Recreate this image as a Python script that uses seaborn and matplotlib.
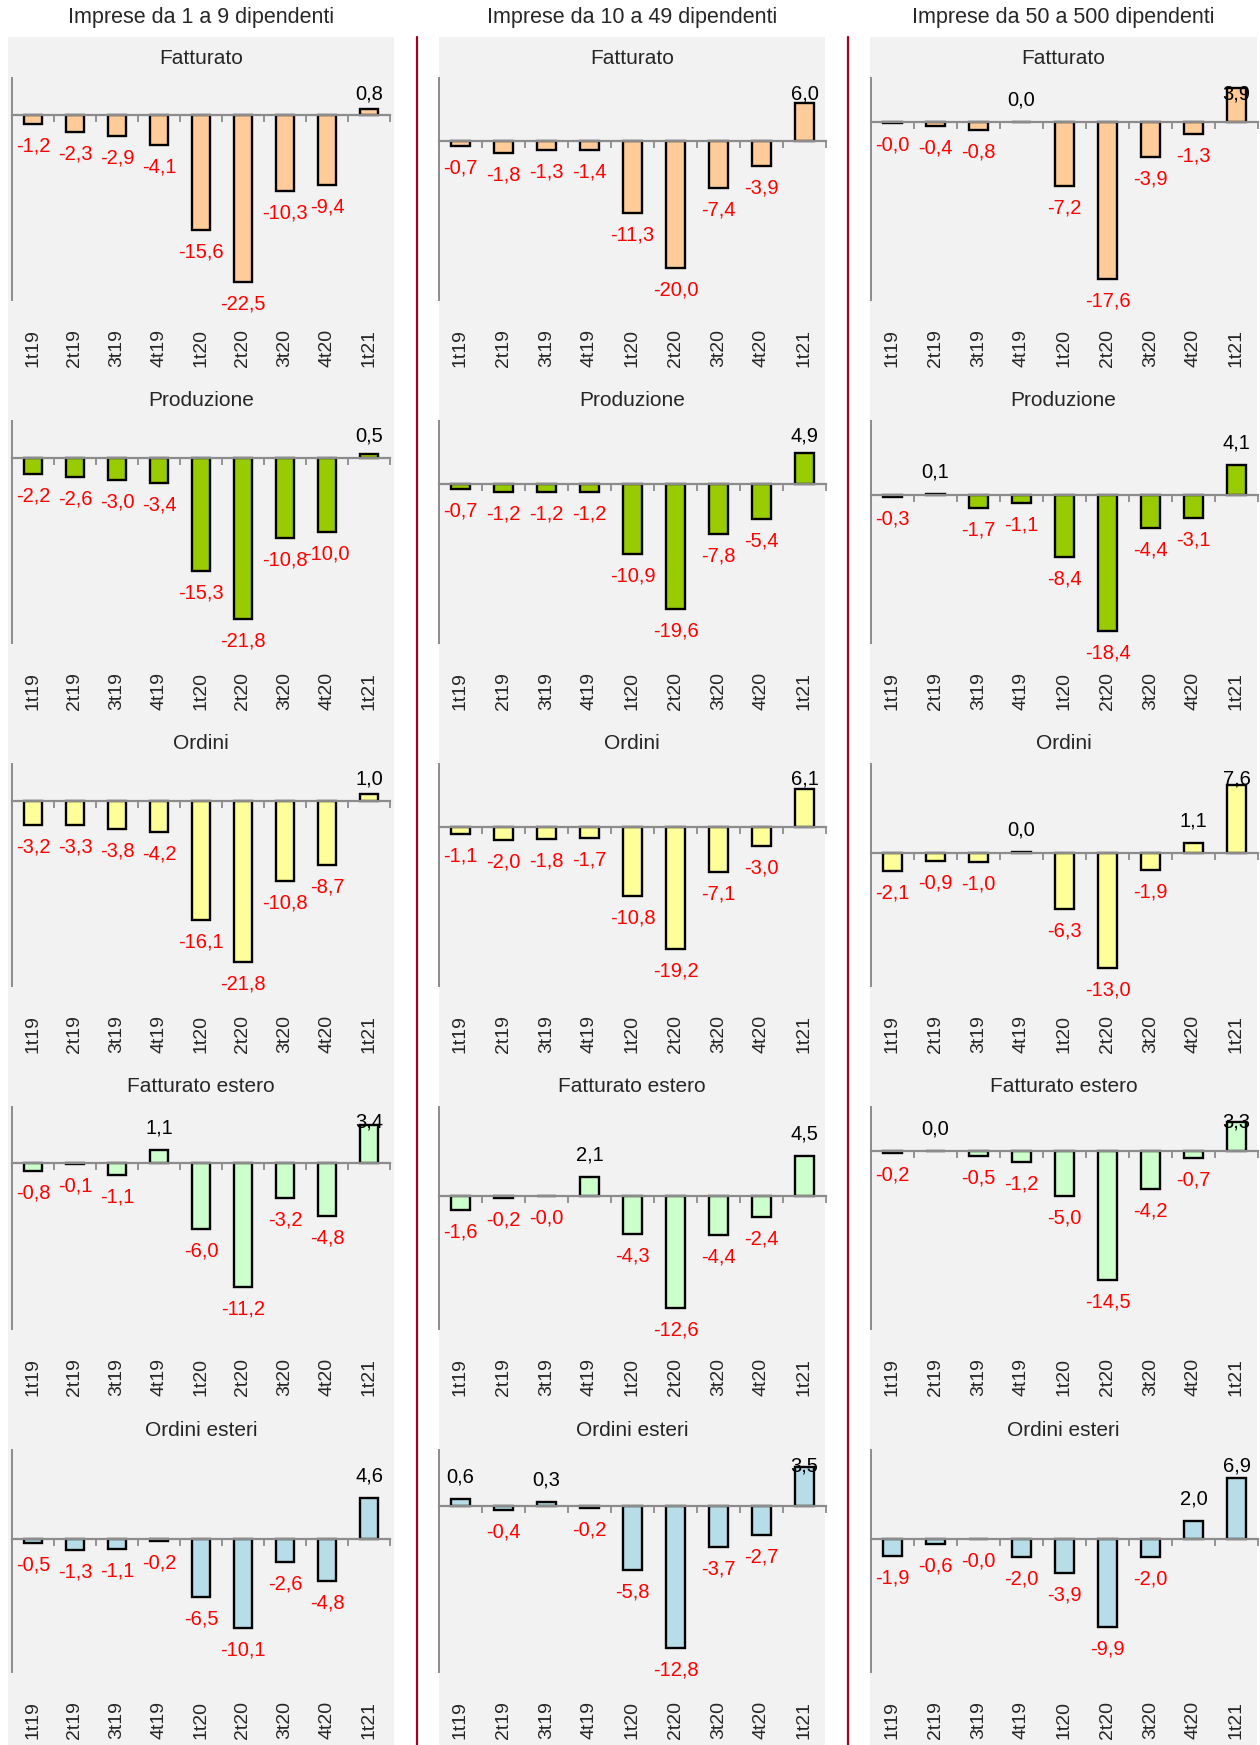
import numpy as np
import pandas as pd
import matplotlib
matplotlib.use('Agg')
import matplotlib.pyplot as plt
from matplotlib.patches import Rectangle
from matplotlib.lines import Line2D
import seaborn as sns

periods = ['1t19', '2t19', '3t19', '4t19', '1t20', '2t20', '3t20', '4t20', '1t21']
groups = ['Imprese da 1 a 9 dipendenti', 'Imprese da 10 a 49 dipendenti', 'Imprese da 50 a 500 dipendenti']
indicators = ['Fatturato', 'Produzione', 'Ordini', 'Fatturato estero', 'Ordini esteri']
bar_colors = ['#FFCC99', '#99CC00', '#FFFF99', '#CCFFCC', '#B7DDE8']

# Imprese da 1 a 9 dipendenti
small_fatturato = [-1.2, -2.3, -2.9, -4.1, -15.6, -22.5, -10.3, -9.4, 0.8]
small_produzione = [-2.2, -2.6, -3.0, -3.4, -15.3, -21.8, -10.8, -10.0, 0.5]
small_ordini = [-3.2, -3.3, -3.8, -4.2, -16.1, -21.8, -10.8, -8.7, 1.0]
small_fatt_estero = [-0.8, -0.1, -1.1, 1.1, -6.0, -11.2, -3.2, -4.8, 3.4]
small_ord_esteri = [-0.5, -1.3, -1.1, -0.2, -6.5, -10.1, -2.6, -4.8, 4.6]

# Imprese da 10 a 49 dipendenti
mid_fatturato = [-0.7, -1.8, -1.3, -1.4, -11.3, -20.0, -7.4, -3.9, 6.0]
mid_produzione = [-0.7, -1.2, -1.2, -1.2, -10.9, -19.6, -7.8, -5.4, 4.9]
mid_ordini = [-1.1, -2.0, -1.8, -1.7, -10.8, -19.2, -7.1, -3.0, 6.1]
mid_fatt_estero = [-1.6, -0.2, -0.04, 2.1, -4.3, -12.6, -4.4, -2.4, 4.5]
mid_ord_esteri = [0.6, -0.4, 0.3, -0.2, -5.8, -12.8, -3.7, -2.7, 3.5]

# Imprese da 50 a 500 dipendenti
big_fatturato = [-0.04, -0.4, -0.8, 0.04, -7.2, -17.6, -3.9, -1.3, 3.9]
big_produzione = [-0.3, 0.1, -1.7, -1.1, -8.4, -18.4, -4.4, -3.1, 4.1]
big_ordini = [-2.1, -0.9, -1.0, 0.04, -6.3, -13.0, -1.9, 1.1, 7.6]
big_fatt_estero = [-0.2, 0.04, -0.5, -1.2, -5.0, -14.5, -4.2, -0.7, 3.3]
big_ord_esteri = [-1.9, -0.6, -0.04, -2.0, -3.9, -9.9, -2.0, 2.0, 6.9]

data = [
    [small_fatturato, small_produzione, small_ordini, small_fatt_estero, small_ord_esteri],
    [mid_fatturato, mid_produzione, mid_ordini, mid_fatt_estero, mid_ord_esteri],
    [big_fatturato, big_produzione, big_ordini, big_fatt_estero, big_ord_esteri],
]

sns.set_theme(style='white')
plt.rcParams['font.family'] = ['Liberation Sans', 'DejaVu Sans']

W, H = 1260, 1745
fig = plt.figure(figsize=(W / 100, H / 100), dpi=100, facecolor='white')


def fx(px):
    return px / W


def fy(py):
    return 1 - py / H


def excel_limits(vals, step=5):
    lo, hi = min(min(vals), 0), max(max(vals), 0)
    pad = 0.05 * (hi - lo)
    return np.floor((lo - pad) / step) * step, np.ceil((hi + pad) / step) * step


panel_x = [(8, 394), (439, 825), (870, 1257)]
axes_x = [(12, 390), (439, 826), (871, 1258)]
row_top, row_step, ax_h = 78, 343, 222
grey_axis = '#8c8c8c'

# grey column panels + red dividers
for x0, x1 in panel_x:
    fig.add_artist(Rectangle((fx(x0), 0), fx(x1 - x0), fy(37), transform=fig.transFigure,
                             facecolor='#F2F2F2', edgecolor='none', zorder=0))
for xd in [417, 848]:
    fig.add_artist(Line2D([fx(xd), fx(xd)], [0, fy(37)], transform=fig.transFigure,
                          color='#A50021', lw=1.6))

pos_labels = []
for c, grp in enumerate(groups):
    x0, x1 = panel_x[c]
    fig.text(fx((x0 + x1) / 2), fy(18), grp, ha='center', va='center', fontsize=15.5)
    ax0, ax1 = axes_x[c]
    for r, ind in enumerate(indicators):
        vals = data[c][r]
        top = row_top + r * row_step
        fig.text(fx((x0 + x1) / 2), fy(top - 20), ind, ha='center', va='center', fontsize=15)

        ax = fig.add_axes([fx(ax0), fy(top + ax_h), fx(ax1 - ax0), ax_h / H])
        ax.set_facecolor('none')
        df = pd.DataFrame({'periodo': periods, 'valore': vals})
        sns.barplot(data=df, x='periodo', y='valore', ax=ax, color=bar_colors[r], saturation=1,
                    edgecolor='black', linewidth=1.7, width=0.45)
        ax.set_xlim(-0.5, 8.5)
        ax.set_ylim(*excel_limits(vals))
        ax.set_xlabel('')
        ax.set_ylabel('')
        ax.set_yticks([])

        ax.spines[['top', 'right']].set_visible(False)
        ax.spines['left'].set_color(grey_axis)
        ax.spines['left'].set_linewidth(1.4)
        ax.spines['bottom'].set_position(('data', 0))
        ax.spines['bottom'].set_color(grey_axis)
        ax.spines['bottom'].set_linewidth(1.6)
        ax.tick_params(axis='x', which='major', length=0, labelbottom=False)
        ax.set_xticks(np.arange(-0.5, 9, 1), minor=True)
        ax.tick_params(axis='x', which='minor', bottom=True, length=5, width=1.3,
                       color=grey_axis, direction='out')

        sec = ax.secondary_xaxis('bottom')
        sec.set_xticks(range(len(periods)), labels=periods)
        sec.tick_params(length=0, pad=21, labelsize=14, labelrotation=90)
        sec.spines['bottom'].set_visible(False)

        for i, v in enumerate(vals):
            txt = f'{v:.1f}'.replace('.', ',')
            if v < 0:
                ax.annotate(txt, xy=(i, v), xytext=(0, -9), textcoords='offset points',
                            ha='center', va='top', color='#FF0000', fontsize=14.5)
            else:
                t = ax.annotate(txt, xy=(i, v), xytext=(0, 9), textcoords='offset points',
                                ha='center', va='bottom', color='black', fontsize=14.5)
                pos_labels.append(t)

# keep positive labels inside the plot area, as Excel does
fig.canvas.draw()
renderer = fig.canvas.get_renderer()
for t in pos_labels:
    bb = t.get_window_extent(renderer)
    axb = t.axes.get_window_extent(renderer)
    limit = axb.y1 - 6
    if bb.y1 > limit:
        shift = (bb.y1 - limit) * 72 / fig.dpi
        t.xyann = (0, 9 - shift)

fig.savefig('out.png', dpi=100)
